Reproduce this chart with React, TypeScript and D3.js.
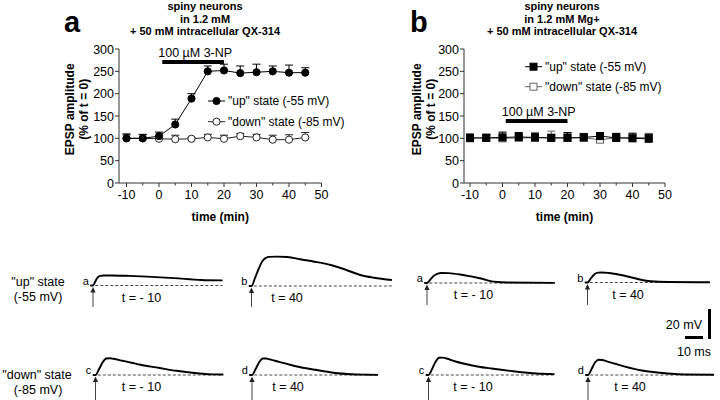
import React from 'react';
import * as d3 from 'd3';

// ---------- data: time course (min) ----------
const times = [-10, -5, 0, 5, 10, 15, 20, 25, 30, 35, 40, 45];
const upA = [100, 100, 105, 131, 189, 250, 252, 246, 248, 250, 247, 247];
const upAErr = [10, 9, 9, 12, 11, 12, 14, 16, 18, 12, 17, 11];
const downA = [100, 100, 99, 98, 99, 102, 99, 105, 102, 97, 97, 102];
const downAErr = [8, 8, 7, 9, 3, 7, 8, 6, 7, 10, 11, 11];
const upB = [101, 101, 102, 103, 102, 101, 101, 102, 105, 101, 100, 99];
const upBErr = [8, 8, 12, 10, 10, 8, 12, 8, 8, 10, 10, 10];
const downB = [100, 101, 100, 101, 101, 101, 101, 101, 97, 101, 102, 101];
const downBErr = [10, 8, 12, 10, 10, 15, 10, 10, 10, 10, 10, 10];
const xTicks = [-10, 0, 10, 20, 30, 40, 50];
const xMinorTicks = [-5, 5, 15, 25, 35, 45];
const yTicks = [0, 50, 100, 150, 200, 250, 300];
const drugWindow = [1, 20];
const drugLabel = '100 µM 3-NP';

// ---------- data: example EPSP traces (ms, mV) ----------
const trAa_ms = [-1.5, 0, 1, 2, 3, 4, 6, 10, 20, 30, 45, 60, 72];
const trAa_mV = [0, 0, 2, 4.3, 5.8, 6.4, 6.7, 6.7, 6.4, 5.9, 4.9, 3.7, 3.4];
const trAb_ms = [-1.5, 0, 2, 4, 6, 8, 10, 14, 20, 27, 35, 44, 52, 60, 68, 78];
const trAb_mV = [0, 0, 5.5, 11.5, 16.5, 18.8, 19.4, 19.6, 19.3, 17.8, 16.2, 14, 11, 7.5, 5.5, 4];
const trAc_ms = [-1.5, 0, 2, 4, 6, 8, 10, 15, 20, 25, 35, 45, 55, 65, 71];
const trAc_mV = [0, 0, 4, 8.5, 11, 11.2, 10.8, 9.5, 8.2, 6.8, 4.8, 2.8, 1.3, 0.4, 0.3];
const trAd_ms = [-1.5, 0, 2, 4, 6, 8, 10, 15, 20, 25, 35, 45, 55, 65, 70];
const trAd_mV = [0, 0, 4, 8.5, 11, 11, 10.4, 8.8, 7.2, 5.7, 3.5, 1.5, 0.5, 0.2, 0.1];
const trBa_ms = [-1.5, 0, 2, 4, 6, 8, 12, 20, 30, 37, 45, 71];
const trBa_mV = [0, 0, 2.5, 5, 6.3, 6.7, 6.6, 5.3, 3, 0.9, 0.3, 0.1];
const trBb_ms = [-1.5, 0, 2, 4, 6, 8, 12, 20, 28, 35, 45, 68];
const trBb_mV = [0, 0, 3, 5.7, 6.6, 6.7, 6.3, 4.7, 2.3, 0.8, 0.3, 0.2];
const trBc_ms = [-1.5, 0, 2, 4, 6, 8, 10, 15, 20, 28, 35, 47, 60, 70];
const trBc_mV = [0, 0, 4, 9, 11.5, 11.6, 11, 9, 7.5, 5.5, 4.3, 2.5, 1, 0.6];
const trBd_ms = [-1.5, 0, 2, 4, 6, 8, 10, 15, 20, 30, 40, 50, 70];
const trBd_mV = [0, 0, 4, 8.5, 10.2, 10, 9.2, 7.5, 5.8, 3, 1.5, 0.5, 0.2];

const FONT = 'Liberation Sans, Arial, Helvetica, sans-serif';

type PanelProps = {
  letter: string; title2: string; x0: number; x1: number; axisX: number;
  up: number[]; upErr: number[]; down: number[]; downErr: number[];
  square: boolean; legend: [number, number, number]; bar: [number, number];
  yTitleX: [number, number]; titleCx: number; letterX: number; downColor: string;
};

function Panel(p: PanelProps) {
  const x = d3.scaleLinear().domain([-10, 50]).range([p.x0, p.x1]);
  const y = d3.scaleLinear().domain([0, 300]).range([183, 49]);
  const line = d3.line<number>().x((_, i) => x(times[i])).y((d) => y(d));
  const marker = (cx: number, cy: number, filled: boolean, key: string, col: string) =>
    p.square ? (
      <rect key={key} x={cx - 3.5} y={cy - 3.5} width={7} height={7}
        fill={filled ? '#000' : '#fff'} stroke={filled ? '#000' : col} strokeWidth={1} />
    ) : (
      <circle key={key} cx={cx} cy={cy} r={3.6} fill={filled ? '#000' : '#fff'}
        stroke={filled ? '#000' : col} strokeWidth={1} />
    );
  const errs = (vals: number[], e: number[], col: string, k: string) =>
    vals.map((v, i) => (
      <g key={k + i} stroke={col} strokeWidth={1}>
        <line x1={x(times[i])} x2={x(times[i])} y1={y(v)} y2={y(v + e[i])} />
        <line x1={x(times[i]) - 4} x2={x(times[i]) + 4} y1={y(v + e[i])} y2={y(v + e[i])} />
      </g>
    ));
  const [lx, ly1, ly2] = p.legend;
  return (
    <g fontFamily={FONT}>
      <text x={p.letterX} y={32} fontSize={29} fontWeight="bold">{p.letter}</text>
      <g fontSize={11} fontWeight="bold" textAnchor="middle">
        <text x={p.titleCx} y={10}>spiny neurons</text>
        <text x={p.titleCx} y={23}>{p.title2}</text>
        <text x={p.titleCx} y={35}>+ 50 mM intracellular QX-314</text>
      </g>
      {/* y axis */}
      <line x1={p.axisX} x2={p.axisX} y1={y(300)} y2={y(0)} stroke="#333" strokeWidth={1} />
      {yTicks.map((t) => (
        <g key={'y' + t}>
          <line x1={p.axisX - 4} x2={p.axisX} y1={y(t)} y2={y(t)} stroke="#333" />
          <text x={p.axisX - 5} y={y(t) + 4.5} fontSize={12.5} textAnchor="end">{t}</text>
        </g>
      ))}
      {/* x axis */}
      <line x1={p.axisX} x2={x(50)} y1={y(0)} y2={y(0)} stroke="#333" strokeWidth={1} />
      {xTicks.map((t) => (
        <g key={'x' + t}>
          <line x1={x(t)} x2={x(t)} y1={y(0)} y2={y(0) + 4} stroke="#333" />
          <text x={x(t)} y={y(0) + 16} fontSize={12.5} textAnchor="middle">{t}</text>
        </g>
      ))}
      {xMinorTicks.map((t) => (
        <line key={'m' + t} x1={x(t)} x2={x(t)} y1={y(0)} y2={y(0) + 2.5} stroke="#333" />
      ))}
      <text x={(p.axisX + x(50)) / 2} y={221} fontSize={12} fontWeight="bold" textAnchor="middle">time (min)</text>
      <g fontSize={12} fontWeight="bold" textAnchor="middle">
        <text transform={`translate(${p.yTitleX[0]},${y(165)}) rotate(-90)`}>EPSP amplitude</text>
        <text transform={`translate(${p.yTitleX[1]},${y(165)}) rotate(-90)`}>(% of t = 0)</text>
      </g>
      {/* drug bar */}
      <text x={x(drugWindow[0]) - 4} y={y(p.bar[0]) - 5} fontSize={12.5}>{drugLabel}</text>
      <line x1={x(drugWindow[0])} x2={x(drugWindow[1])} y1={y(p.bar[0])} y2={y(p.bar[0])} stroke="#000" strokeWidth={4} />
      {/* series */}
      {errs(p.down, p.downErr, p.downColor, 'de')}
      <path d={line(p.down) || ''} fill="none" stroke={p.downColor} strokeWidth={1} />
      {p.down.map((v, i) => marker(x(times[i]), y(v), false, 'dm' + i, p.downColor))}
      {errs(p.up, p.upErr, '#000', 'ue')}
      <path d={line(p.up) || ''} fill="none" stroke="#000" strokeWidth={1} />
      {p.up.map((v, i) => marker(x(times[i]), y(v), true, 'um' + i, '#000'))}
      {/* legend */}
      <g fontSize={12}>
        <line x1={lx} x2={lx + 17} y1={ly1} y2={ly1} stroke="#000" />
        {marker(lx + 8.5, ly1, true, 'l1', '#000')}
        <text x={lx + 20} y={ly1 + 4.3}>"up" state (-55 mV)</text>
        <line x1={lx} x2={lx + 17} y1={ly2} y2={ly2} stroke={p.downColor} />
        {marker(lx + 8.5, ly2, false, 'l2', p.downColor)}
        <text x={lx + 20} y={ly2 + 4.3}>"down" state (-85 mV)</text>
      </g>
    </g>
  );
}

type TraceProps = { ms: number[]; mV: number[]; x0: number; y0: number; letter: string; label: string; labelX: number; end: number; arrowEnd: number };

function Trace(t: TraceProps) {
  const tx = d3.scaleLinear().domain([0, 10]).range([t.x0, t.x0 + 18]);
  const ty = d3.scaleLinear().domain([0, 20]).range([t.y0, t.y0 - 30]);
  const path = d3.line<number>().x((_, i) => tx(t.ms[i])).y((d) => ty(d)).curve(d3.curveMonotoneX)(t.mV) || '';
  return (
    <g fontFamily={FONT}>
      <line x1={tx(-1.5)} x2={tx(t.end)} y1={ty(0)} y2={ty(0)} stroke="#333" strokeWidth={0.9} strokeDasharray="3,2" />
      <path d={path} fill="none" stroke="#000" strokeWidth={1.9} />
      <text x={tx(-1.5) - 1.5} y={t.y0 - 1} fontSize={11} textAnchor="end">{t.letter}</text>
      <line x1={t.x0} x2={t.x0} y1={t.y0 + 4} y2={t.arrowEnd} stroke="#444" strokeWidth={1} />
      <path d={`M${t.x0},${t.y0 + 1.5} L${t.x0 - 2.6},${t.y0 + 7} L${t.x0 + 2.6},${t.y0 + 7} Z`} fill="#222" />
      <text x={t.labelX} y={t.y0 + 16} fontSize={12.5} textAnchor="middle">{t.label}</text>
    </g>
  );
}

const scaleBarMs = [10];
const scaleBarMV = [20];

export default function App() {
  const sx = d3.scaleLinear().domain([0, 10]).range([0, 18]);
  const sy = d3.scaleLinear().domain([0, 20]).range([0, 30]);
  return (
    <svg width={720} height={400} style={{ position: 'absolute', left: 0, top: 0, background: '#fff' }}>
      <rect width={720} height={400} fill="#fff" />
      <Panel letter="a" title2="in 1.2 mM" x0={126.5} x1={321.5} axisX={119}
        up={upA} upErr={upAErr} down={downA} downErr={downAErr} square={false}
        legend={[208, 101, 121.7]} bar={[271, 0]} yTitleX={[74, 88]} titleCx={205} letterX={64} downColor="#222" />
      <Panel letter="b" title2="in 1.2 mM Mg+" x0={470} x1={665} axisX={464}
        up={upB} upErr={upBErr} down={downB} downErr={downBErr} square={true}
        legend={[525, 66.7, 86.7]} bar={[139, 0]} yTitleX={[421, 435]} titleCx={562} letterX={410} downColor="#666" />
      <g fontFamily={FONT} fontSize={12.5} textAnchor="middle">
        <text x={38} y={285.5}>"up" state</text>
        <text x={38} y={300.5}>(-55 mV)</text>
        <text x={37} y={378.5}>"down" state</text>
        <text x={38} y={394}>(-85 mV)</text>
      </g>
      <Trace ms={trAa_ms} mV={trAa_mV} x0={93} y0={285.5} letter="a" label="t = - 10" labelX={141.5} end={72} arrowEnd={307} />
      <Trace ms={trAb_ms} mV={trAb_mV} x0={251.5} y0={286} letter="b" label="t = 40" labelX={287} end={78} arrowEnd={307} />
      <Trace ms={trAc_ms} mV={trAc_mV} x0={95.5} y0={375} letter="c" label="t = - 10" labelX={141.5} end={71} arrowEnd={400} />
      <Trace ms={trAd_ms} mV={trAd_mV} x0={252} y0={375} letter="d" label="t = 40" labelX={288} end={70} arrowEnd={400} />
      <Trace ms={trBa_ms} mV={trBa_mV} x0={427} y0={283} letter="a" label="t = - 10" labelX={473.5} end={71} arrowEnd={305} />
      <Trace ms={trBb_ms} mV={trBb_mV} x0={587.5} y0={282.5} letter="b" label="t = 40" labelX={628} end={68} arrowEnd={305} />
      <Trace ms={trBc_ms} mV={trBc_mV} x0={428.5} y0={375} letter="c" label="t = - 10" labelX={473} end={70} arrowEnd={400} />
      <Trace ms={trBd_ms} mV={trBd_mV} x0={588} y0={375} letter="d" label="t = 40" labelX={630} end={70} arrowEnd={400} />
      {/* scale bars */}
      <g fontFamily={FONT} fontSize={12.5}>
        <line x1={703 - sx(scaleBarMs[0])} x2={703} y1={337.5} y2={337.5} stroke="#000" strokeWidth={3} />
        <line x1={709.5} x2={709.5} y1={339} y2={339 - sy(scaleBarMV[0])} stroke="#000" strokeWidth={3} />
        <text x={702} y={328.5} textAnchor="end">20 mV</text>
        <text x={694} y={356} textAnchor="middle">10 ms</text>
      </g>
    </svg>
  );
}
